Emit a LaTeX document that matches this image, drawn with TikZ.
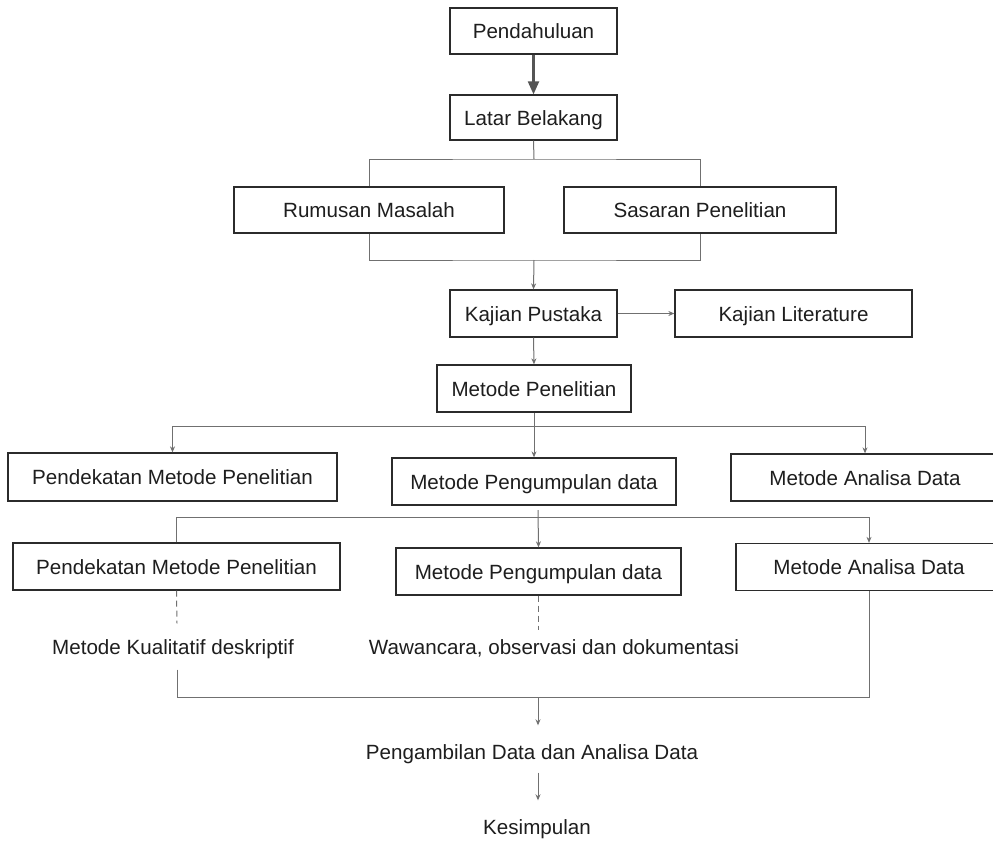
\documentclass[tikz,border=0pt]{standalone}
\usepackage{fontspec}
\setmainfont{Liberation Sans}
\usetikzlibrary{arrows.meta,calc}
\definecolor{boxline}{HTML}{2B2B2B}
\definecolor{connline}{HTML}{707070}
\definecolor{darkarr}{HTML}{555555}
\definecolor{txt}{HTML}{1E1E1E}
\begin{document}
\begin{tikzpicture}[x=1pt,y=-1pt,
 box/.style={draw=boxline,line width=1.3pt,inner sep=0pt,text=txt,font=\fontsize{20.6}{24}\selectfont,text height=15pt,text depth=0pt},
 lbl/.style={inner sep=1pt,text=txt,font=\fontsize{20.6}{24}\selectfont,text height=15pt,text depth=4pt},
 conn/.style={draw=connline,line width=1pt},
 arr/.style={conn,-{Stealth[length=6pt,width=5pt]}},
 dashline/.style={conn,dash pattern=on 6pt off 4pt},
 bigarr/.style={draw=darkarr,line width=2.2pt,-{Triangle[length=13pt,width=11pt]}},
 ]
\useasboundingbox (0,0) rectangle (993,841);
\fill[white] (0,0) rectangle (993,841);

% boxes
\node[box,minimum width=167pt,minimum height=46pt] (pend) at (533.5,31) {Pendahuluan};
\node[box,minimum width=167pt,minimum height=45pt] (latar) at (533.5,117.5) {Latar Belakang};
\node[box,minimum width=270pt,minimum height=46pt] (rumusan) at (369,210) {Rumusan Masalah};
\node[box,minimum width=272pt,minimum height=46pt] (sasaran) at (700,210) {Sasaran Penelitian};
\node[box,minimum width=167pt,minimum height=47pt] (kp) at (533.5,313.5) {Kajian Pustaka};
\node[box,minimum width=237pt,minimum height=47pt] (kl) at (793.5,313.5) {Kajian Literature};
\node[box,minimum width=194pt,minimum height=47pt] (mp) at (534,388.5) {Metode Penelitian};

\node[box,minimum width=329pt,minimum height=48pt] (a1) at (172.5,477) {Pendekatan Metode Penelitian};
\node[box,minimum width=284pt,minimum height=47pt] (b1) at (534,481.5) {Metode Pengumpulan data};
\node[box,minimum width=268pt,minimum height=47pt] (c1) at (865,477.5) {Metode Analisa Data};

\node[box,minimum width=327pt,minimum height=47pt] (a2) at (176.5,566.5) {Pendekatan Metode Penelitian};
\node[box,minimum width=285pt,minimum height=47pt] (b2) at (538.5,571.5) {Metode Pengumpulan data};
\node[box,minimum width=266pt,minimum height=47pt] (c2) at (869,567) {Metode Analisa Data};

% plain labels
\node[lbl] (t1) at (173,649) {Metode Kualitatif deskriptif};
\node[lbl] (t2) at (554,649) {Wawancara, observasi dan dokumentasi};
\node[lbl] (t3) at (532,754) {Pengambilan Data dan Analisa Data};
\node[lbl] (t4) at (537,829) {Kesimpulan};

% junctions
\coordinate (j0) at (534,159);
\coordinate (j1) at (534,260);
\coordinate (j2) at (534,426);
\coordinate (j3) at (538,517);
\coordinate (j3top) at (538,510);
\coordinate (j4) at (538,697);
\coordinate (d2) at (538.5,630);

% connectors
\draw[bigarr] (pend.south) -- (latar.north);
\draw[conn] (latar.south) -- (j0);
\draw[conn] (rumusan.north) |- (j0) -| (sasaran.north);
\draw[conn] (rumusan.south) |- (j1) -| (sasaran.south);
\draw[arr] (j1) -- (kp.north);
\draw[arr] (kp.east) -- (kl.west);
\draw[arr] (kp.south) -- (mp.north);
\draw[conn] (mp.south) -- (j2);
\draw[arr] (j2) -| (a1.north);
\draw[arr] (j2) -| (c1.north);
\draw[arr] (j2) -- (b1.north);

\draw[conn] (a2.north) |- (j3);
\draw[arr] (j3) -| (c2.north);
\draw[arr] (j3top) -- (b2.north);

\draw[dashline] (a2.south) -- ([xshift=4pt,yshift=15pt]t1.north);
\draw[dashline] (b2.south) -- (d2);

\draw[conn] ([xshift=4pt,yshift=-10pt]t1.south) |- (j4) -| (c2.south);
\draw[arr,shorten >=18pt] (j4) -- (j4 |- t3.north);
\draw[arr,shorten <=8pt,shorten >=18pt] (t3.south -| j4) -- (t4.north -| j4);
\end{tikzpicture}
\end{document}
